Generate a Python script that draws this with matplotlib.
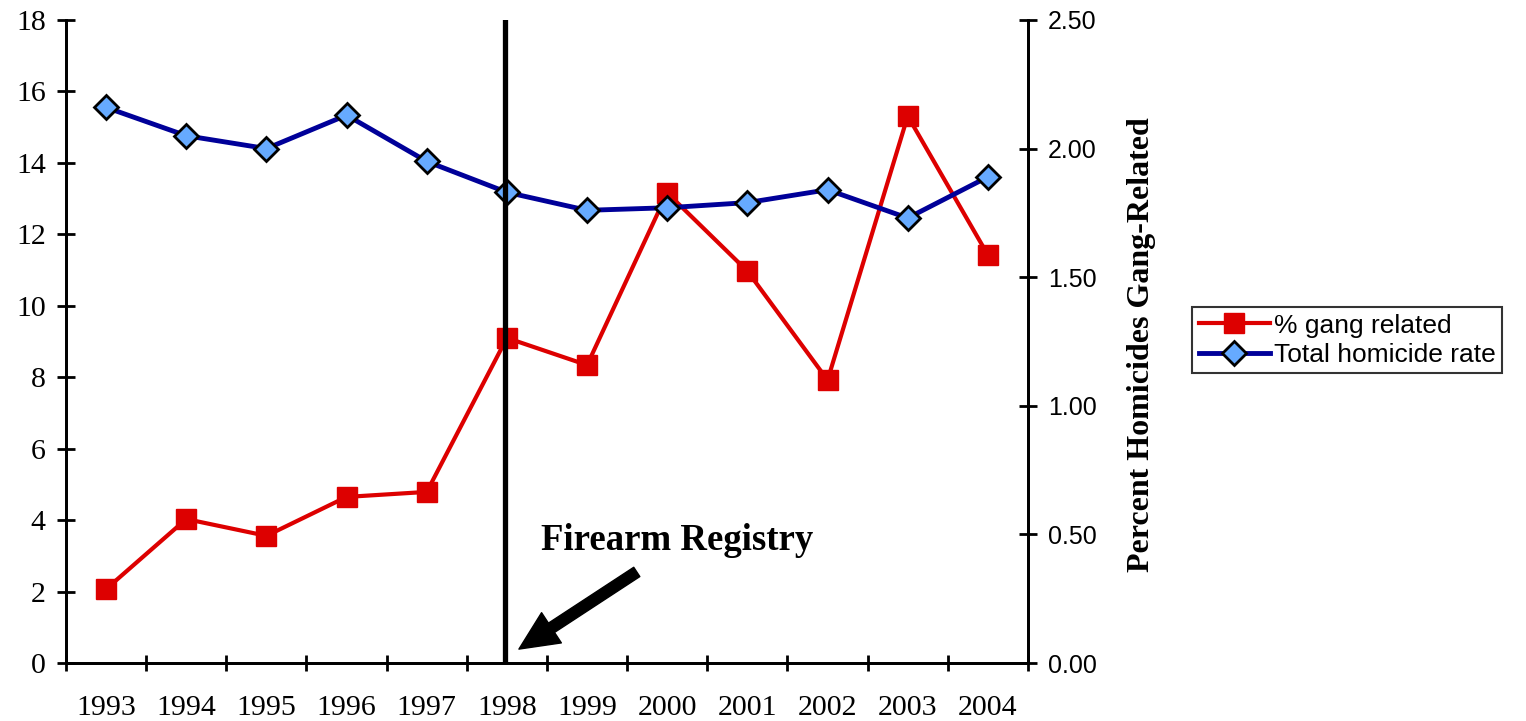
import matplotlib
matplotlib.use("Agg")
import matplotlib.pyplot as plt
import numpy as np

years = ["1993", "1994", "1995", "1996", "1997", "1998",
         "1999", "2000", "2001", "2002", "2003", "2004"]
gang_pct = [2.07, 4.03, 3.56, 4.65, 4.79, 9.10, 8.34, 13.16, 10.97, 7.92, 15.31, 11.42]
homicide_rate = [2.16, 2.05, 2.00, 2.13, 1.95, 1.83, 1.76, 1.77, 1.79, 1.84, 1.73, 1.89]
registry_year = "1998"

serif = "Liberation Serif"
sans = "Liberation Sans"

fig = plt.figure(figsize=(15.26, 7.21), dpi=100)
ax = fig.add_axes([0.04325, 0.0804, 0.6304, 0.8919])
ax2 = ax.twinx()

x = np.arange(len(years))

l1, = ax.plot(x, gang_pct, color="#DD0000", lw=3, marker="s", markersize=15,
              markeredgecolor="#DD0000", label="% gang related", zorder=3)
l2, = ax2.plot(x, homicide_rate, color="#000099", lw=3.5, marker="D", markersize=12,
               markerfacecolor="#66AAFF", markeredgecolor="black", markeredgewidth=2,
               label="Total homicide rate", zorder=3)

ax.set_xlim(-0.5, len(years) - 0.5)
ax.set_ylim(0, 18)
ax2.set_ylim(0, 2.5)

ax.set_yticks(np.arange(0, 19, 2))
ax.set_yticklabels([str(v) for v in range(0, 19, 2)], fontfamily=serif, fontsize=21.5)
ax2.set_yticks(np.arange(0, 2.51, 0.5))
ax2.set_yticklabels(["%.2f" % v for v in np.arange(0, 2.51, 0.5)], fontfamily=sans, fontsize=18)

ax.set_xticks(x)
ax.set_xticklabels(years, fontfamily=serif, fontsize=21.5)
ax.set_xticks(np.arange(-0.5, len(years), 1), minor=True)
ax.tick_params(axis="x", which="major", length=0, pad=23)
ax.tick_params(axis="x", which="minor", direction="inout", length=12, width=2)
ax.tick_params(axis="y", direction="inout", length=13, width=2, pad=8)
ax2.tick_params(axis="y", direction="inout", length=13, width=2, pad=8)

for a in (ax, ax2):
    a.spines["top"].set_visible(False)
    for s in ("left", "right", "bottom"):
        a.spines[s].set_linewidth(2)

ax2.set_ylabel("Percent Homicides Gang-Related", fontfamily=serif, fontweight="bold",
               fontsize=23)
ax2.yaxis.set_label_coords(1.103, 0.495)

reg_x = years.index(registry_year)
ax2.axvline(reg_x - 0.02, color="black", lw=3.8, zorder=5)

# arrow pointing at the registry year
ax.annotate("", xy=(reg_x + 0.15, 0.39), xytext=(reg_x + 1.62, 2.55),
            arrowprops=dict(facecolor="black", edgecolor="black", width=8,
                            headwidth=26, headlength=28), zorder=6)
ax.text(reg_x + 0.42, 3.17, "Firearm Registry", fontfamily=serif, fontweight="bold",
        fontsize=26.5, ha="left", va="baseline")

leg = fig.legend(handles=[l1, l2], loc="upper left", bbox_to_anchor=(0.7811, 0.5742),
                 prop={"family": sans, "size": 19}, frameon=True, fancybox=False,
                 handlelength=2.7, handletextpad=0.15, borderpad=0.25, labelspacing=0.2,
                 borderaxespad=0)
leg.get_frame().set_edgecolor("black")
leg.get_frame().set_linewidth(1.5)

fig.savefig("out.png", dpi=100)
